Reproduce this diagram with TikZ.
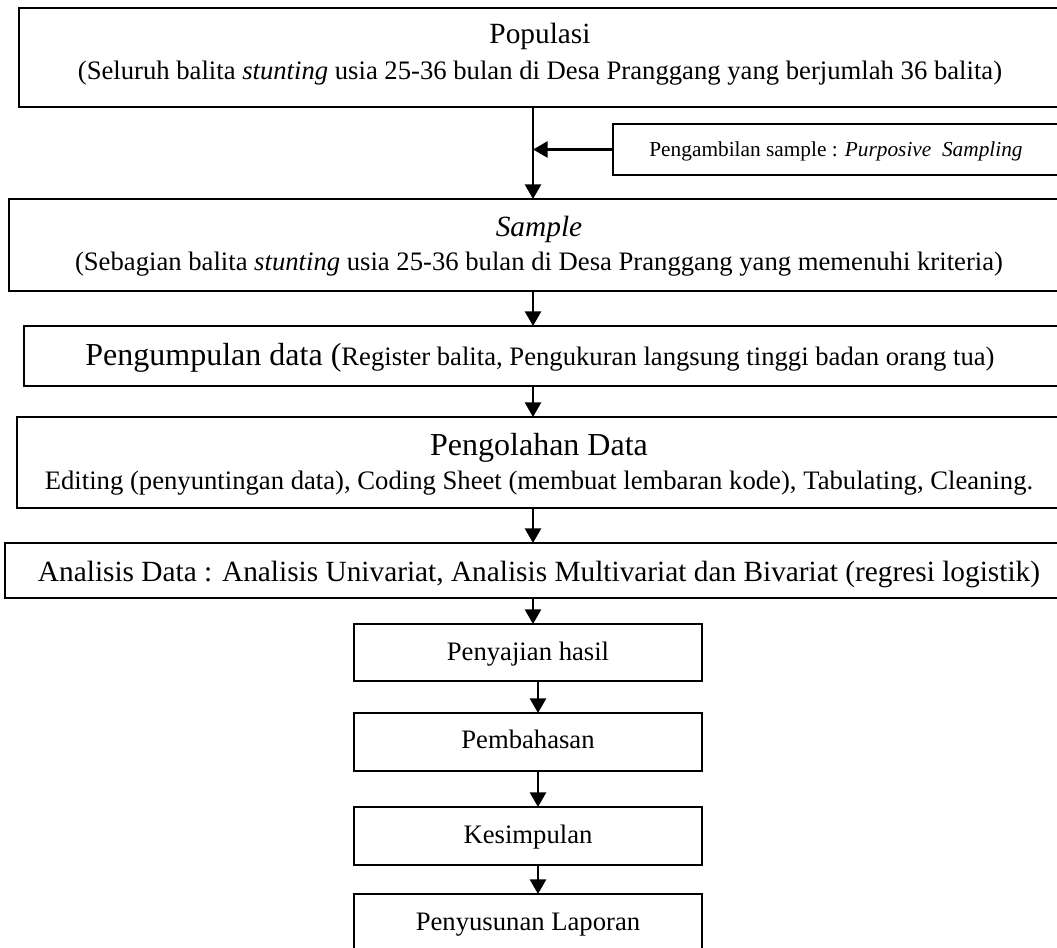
\documentclass[tikz,border=0pt]{standalone}
\usepackage{fontspec}
\setmainfont{Liberation Serif}
\usetikzlibrary{arrows.meta}
\tikzset{
  boxnode/.style={draw, line width=1.5pt, rectangle, inner sep=0pt, outer sep=0pt},
  txt/.style={inner sep=0pt, anchor=base, text=black},
  arr/.style={line width=2pt, -{Triangle[length=11pt,width=12pt]}},
}
\newcommand{\fs}[1]{\fontsize{#1}{#1}\selectfont}
\newcommand{\pbox}[5]{\node[boxnode, minimum width={(#4-#2)*0.75pt}, minimum height={(#5-#3)*0.75pt}] (#1) at ({(#2+#4)/2},{(#3+#5)/2}) {};}
\begin{document}
\begin{tikzpicture}[x=0.75pt,y=-0.75pt]
\useasboundingbox (0,0) rectangle (1057,947);
% boxes (corners in pixels)
\pbox{b1}{19}{8}{1061}{107}
\pbox{side}{613}{124}{1070}{175}
\pbox{b2}{9}{199}{1069}{291}
\pbox{b3}{24}{326}{1060}{386}
\pbox{b4}{17}{417}{1061}{508}
\pbox{b5}{5}{543}{1070}{598}
\pbox{b6}{354}{624}{702}{681}
\pbox{b7}{354}{713}{702}{771}
\pbox{b8}{354}{807}{702}{865}
\pbox{b9}{354}{894}{702}{960}
% texts
\node[txt] (t1a) at (540,43) {\fs{22}Populasi};
\node[txt] (t1b) at (540,79) {\fs{20}(Seluruh balita \textit{stunting} usia 25-36 bulan di Desa Pranggang yang berjumlah 36 balita)};
\node[txt] (ts) at (836,156) {\fs{16}Pengambilan sample : \textit{Purposive\ \ Sampling}};
\node[txt] (t2a) at (539,236) {\fs{22}\textit{Sample}};
\node[txt] (t2b) at (539,270) {\fs{20}(Sebagian balita \textit{stunting} usia 25-36 bulan di Desa Pranggang yang memenuhi kriteria)};
\node[txt] (t3) at (540,365) {\fs{24}Pengumpulan data (\fs{20}Register balita, Pengukuran langsung tinggi badan orang tua)};
\node[txt] (t4a) at (539,455) {\fs{24}Pengolahan Data};
\node[txt] (t4b) at (539,489) {\fs{20}Editing (penyuntingan data), Coding Sheet (membuat lembaran kode), Tabulating, Cleaning.};
\node[txt] (t5) at (539,581) {\fs{22}Analisis Data : Analisis Univariat, Analisis Multivariat dan Bivariat (regresi logistik)};
\node[txt] (t6) at (528,660) {\fs{20}Penyajian hasil};
\node[txt] (t7) at (528,748) {\fs{20}Pembahasan};
\node[txt] (t8) at (528,843) {\fs{20}Kesimpulan};
\node[txt] (t9) at (528,930) {\fs{20}Penyusunan Laporan};
% arrow columns
\coordinate (ax) at (533,0);
\coordinate (bx) at (538,0);
\draw[arr] (b1.south -| ax) -- (b2.north -| ax);
\draw[arr] (side.west) -- (side.west -| ax);
\draw[arr] (b2.south -| ax) -- (b3.north -| ax);
\draw[arr] (b3.south -| ax) -- (b4.north -| ax);
\draw[arr] (b4.south -| ax) -- (b5.north -| ax);
\draw[arr] (b5.south -| ax) -- (b6.north -| ax);
\draw[arr] (b6.south -| bx) -- (b7.north -| bx);
\draw[arr] (b7.south -| bx) -- (b8.north -| bx);
\draw[arr] (b8.south -| bx) -- (b9.north -| bx);
\end{tikzpicture}
\end{document}
